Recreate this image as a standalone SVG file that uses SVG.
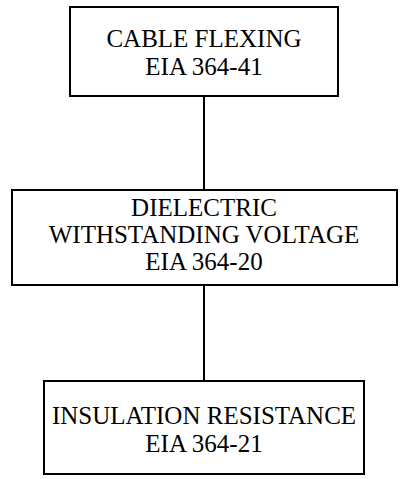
<svg xmlns="http://www.w3.org/2000/svg" width="409" height="479" viewBox="0 0 409 479">
<style>
.box{fill:#fff;stroke:#000;stroke-width:2}
.t{font-family:"Liberation Serif","Times New Roman",serif;font-size:25px;fill:#000;text-anchor:middle}
.c{stroke:#000;stroke-width:2;fill:none}
</style>
<rect width="409" height="479" fill="#fff"/>
<g id="connectors">
<line class="c" x1="204" y1="96" x2="204" y2="190"/>
<line class="c" x1="204" y1="285" x2="204" y2="381"/>
</g>
<g id="node-cable-flexing">
<rect class="box" x="70" y="7" width="268" height="89"/>
<text class="t" x="204" y="47">CABLE FLEXING</text>
<text class="t" x="204" y="75">EIA 364-41</text>
</g>
<g id="node-dielectric">
<rect class="box" x="12" y="190" width="385" height="95"/>
<text class="t" x="204" y="216">DIELECTRIC</text>
<text class="t" x="204" y="243">WITHSTANDING VOLTAGE</text>
<text class="t" x="204" y="270">EIA 364-20</text>
</g>
<g id="node-insulation">
<rect class="box" x="44" y="381" width="320" height="93"/>
<text class="t" x="204" y="424">INSULATION RESISTANCE</text>
<text class="t" x="204" y="452">EIA 364-21</text>
</g>
</svg>
